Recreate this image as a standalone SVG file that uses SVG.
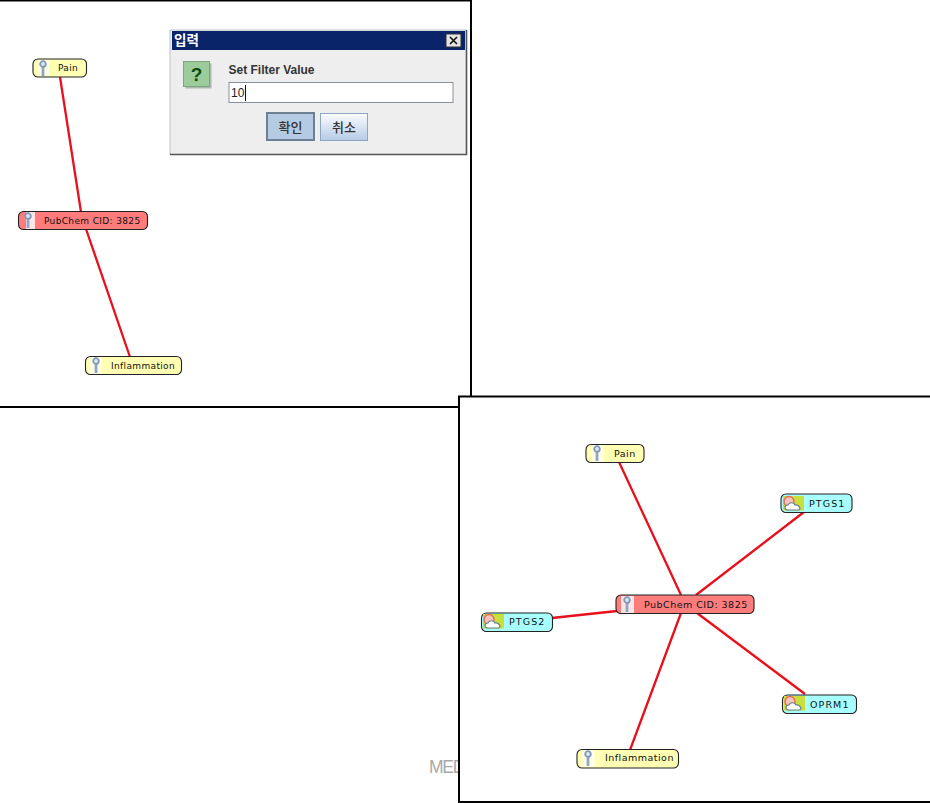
<svg xmlns="http://www.w3.org/2000/svg" width="930" height="803" viewBox="0 0 930 803">
<defs>
<linearGradient id="bluebtn" x1="0" y1="0" x2="0" y2="1"><stop offset="0" stop-color="#fbfcfe"/><stop offset="1" stop-color="#b5cbe6"/></linearGradient>
<g id="pin"><path d="M0 4V15" stroke="#8fa6c4" stroke-width="2.8" fill="none"/><circle cx="0" cy="3" r="2.800" fill="#dfe7f0" stroke="#7f97b8" stroke-width="1.800"/></g>
<g id="cloud"><rect x="0" y="0" width="21" height="14.500" fill="#c8e03a"/><circle cx="6" cy="5.500" r="5" fill="#f6c4bc" stroke="#e86a5a" stroke-width="1.400"/><path d="M5 14c-4 0-4-5 0-5 1-3 6-3 7 0 4-1 7 5 3 5z" fill="#fff" stroke="#6a7f90" stroke-width="1.200"/></g>
</defs>
<style>
.t{font-family:"DejaVu Sans",sans-serif;fill:#111}
.s{font-size:9px;letter-spacing:.35px}.m{font-size:9.5px;letter-spacing:.48px}.w{letter-spacing:1.1px}
.box{stroke:#222;stroke-width:1.1}
.y{fill:#ffffb4}.r{fill:#ff7c7c}.c{fill:#a8ffff}
.e{stroke:#e8101c;stroke-width:2.300;fill:none}
.frame{fill:none;stroke:#000;stroke-width:2}
.ui{font-family:"Liberation Sans",sans-serif}
.k{font-family:"Noto Sans CJK KR",sans-serif}
</style>
<rect width="930" height="803" fill="#fff"/>
<text id="med" x="429" y="773" font-family="Liberation Sans, sans-serif" font-size="17.500" letter-spacing="-1.300" fill="#a8a8a8">MED</text>
<path class="frame" d="M0 0.5H471V407H0"/>
<rect x="459" y="396.500" width="472" height="405.500" fill="#fff" stroke="#000" stroke-width="2"/>
<g id="connectors">
<path class="e" d="M60 77L81 212M86 229L130 357"/>
<path class="e" d="M619 462L681 595M804 512L696 595M552 618L617 611M805 694L697 613M681 613L630 750"/>
</g>
<g id="dialog">
<rect x="170" y="30" width="296.500" height="124.500" fill="#eeeeee" stroke="#b8c4d4"/>
<path d="M170 154.500H466.500V30" fill="none" stroke="#555" stroke-width="1.600"/>
<rect x="172" y="31" width="293" height="19" fill="#0a246a"/>
<text class="k" x="174" y="45" font-size="13.500" font-weight="700" fill="#fff">입력</text>
<rect x="446" y="34" width="15" height="13" fill="#e4e4e4" stroke="#333"/>
<path d="M450 37L457 44M457 37L450 44" stroke="#111" stroke-width="1.600"/>
<rect x="185.500" y="63.500" width="26" height="25" fill="#6c7f6c" opacity=".5"/>
<rect x="183.500" y="61.500" width="26" height="25" fill="#9ccb9c" stroke="#7ba87b"/>
<text class="ui" x="196.500" y="81" text-anchor="middle" font-size="19" font-weight="700" fill="#0b4d0b">?</text>
<text class="ui" x="228.500" y="74" font-size="12" font-weight="700" fill="#333">Set Filter Value</text>
<rect x="229" y="82.500" width="224" height="20" fill="#fff" stroke="#8a9099"/>
<text class="ui" x="231" y="97" font-size="12" fill="#222">10</text>
<path d="M245.500 85V101" stroke="#111"/>
<rect x="267" y="113" width="47" height="27" fill="#b5cae3" stroke="#6d7f93" stroke-width="2"/>
<text class="k" x="290.500" y="131.500" text-anchor="middle" font-size="13" font-weight="500" fill="#333">확인</text>
<rect x="320.500" y="113.500" width="47" height="27" fill="url(#bluebtn)" stroke="#8ea6c2"/>
<text class="k" x="344" y="131.500" text-anchor="middle" font-size="13" font-weight="500" fill="#333">취소</text>
</g>
<g id="n1-pain"><rect class="box y" x="33" y="59" width="53.500" height="18" rx="5"/><rect x="37" y="60" width="12" height="16" fill="#fff" opacity=".6"/><use href="#pin" x="43" y="61"/><text class="t s" x="58" y="71">Pain</text></g>
<g id="n1-pubchem"><rect class="box r" x="18.500" y="211.500" width="129" height="18" rx="5"/><rect x="26" y="212" width="9" height="17" fill="#fff" opacity=".8"/><use href="#pin" x="28" y="213"/><text class="t s" x="44" y="224">PubChem CID: 3825</text></g>
<g id="n1-inflammation"><rect class="box y" x="85.500" y="356.500" width="96" height="18" rx="5"/><rect x="90" y="357" width="12" height="17" fill="#fff" opacity=".6"/><use href="#pin" x="96" y="358"/><text class="t s" x="111" y="369">Inflammation</text></g>
<g id="n2-pain"><rect class="box y" x="586" y="444.500" width="58" height="18" rx="5"/><rect x="591" y="445" width="13" height="17" fill="#fff" opacity=".6"/><use href="#pin" x="597" y="446"/><text class="t m" x="614" y="457">Pain</text></g>
<g id="n2-ptgs1"><rect class="box c" x="781" y="494" width="71" height="18.500" rx="5"/><use href="#cloud" x="783" y="496"/><text class="t m w" x="809" y="507">PTGS1</text></g>
<g id="n2-pubchem"><rect class="box r" x="616" y="595" width="138" height="18.500" rx="5"/><rect x="621" y="596" width="13" height="17" fill="#fff" opacity=".8"/><use href="#pin" x="627" y="597"/><text class="t m" x="644" y="608">PubChem CID: 3825</text></g>
<g id="n2-ptgs2"><rect class="box c" x="481.500" y="613" width="71" height="18.500" rx="5"/><use href="#cloud" x="483" y="614"/><text class="t m w" x="509" y="625">PTGS2</text></g>
<g id="n2-oprm1"><rect class="box c" x="782.500" y="695" width="74" height="18.500" rx="5"/><use href="#cloud" x="784" y="696"/><text class="t m w" x="810" y="708">OPRM1</text></g>
<g id="n2-inflammation"><rect class="box y" x="577" y="749.500" width="101.500" height="18.500" rx="5"/><rect x="582" y="750" width="13" height="17" fill="#fff" opacity=".6"/><use href="#pin" x="588" y="751"/><text class="t m" x="605" y="761">Inflammation</text></g>
</svg>
